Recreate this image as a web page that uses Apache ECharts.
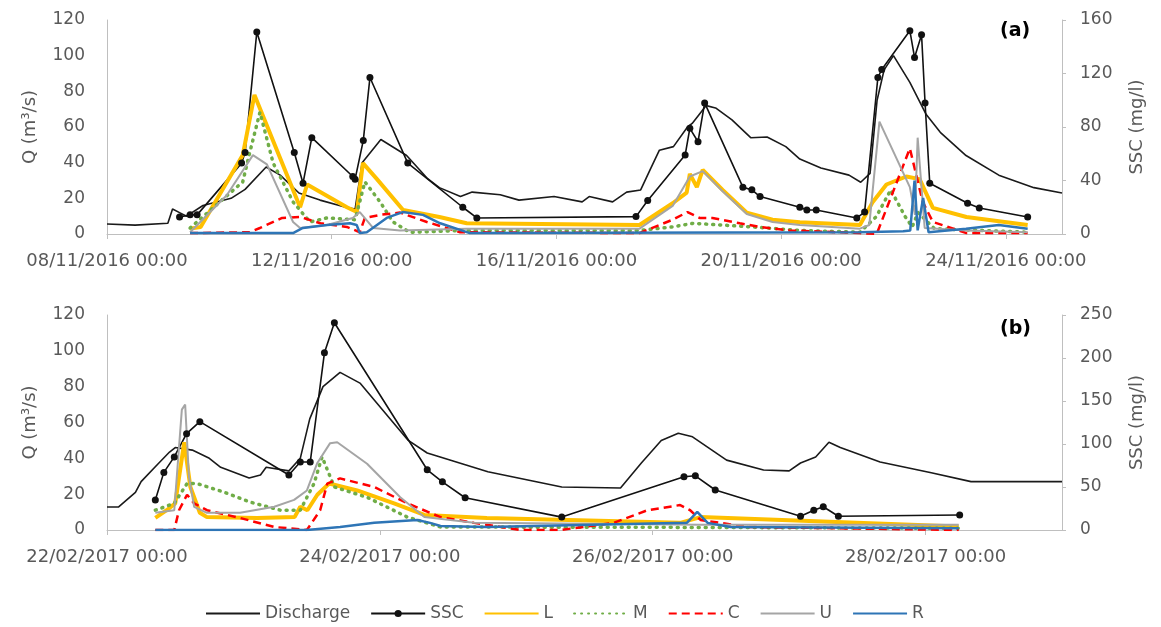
<!DOCTYPE html>
<html><head><meta charset="utf-8">
<script src="https://cdn.jsdelivr.net/npm/echarts@6/dist/echarts.min.js"></script>
<style>html,body{margin:0;padding:0;background:#fff}#c{width:1161px;height:627px}</style>
</head><body><div id="c"></div>
<script>
// ---------- DATA ----------
const startA = "2016-11-08T00:00";
const startB = "2017-02-22T00:00";
const xTicksA = ["08/11/2016 00:00","12/11/2016 00:00","16/11/2016 00:00","20/11/2016 00:00","24/11/2016 00:00"];
const xTicksB = ["22/02/2017 00:00","24/02/2017 00:00","26/02/2017 00:00","28/02/2017 00:00"];
const legendNames = ["Discharge","SSC","L","M","C","U","R"];

// Panel (a) — discharge (m3/s)
const dischargeA = [
["2016-11-08T00:00",5.6],["2016-11-08T12:00",5],["2016-11-09T02:00",6],["2016-11-09T04:00",14],
["2016-11-09T07:00",12],["2016-11-09T10:00",10],["2016-11-09T17:00",16],["2016-11-10T05:00",20],
["2016-11-10T11:00",25],["2016-11-10T20:00",37.6],["2016-11-11T02:00",33],["2016-11-11T10:00",23],
["2016-11-11T19:00",19],["2016-11-12T06:00",15],["2016-11-12T10:00",14],["2016-11-12T13:00",40],
["2016-11-12T21:00",53],["2016-11-13T08:00",44],["2016-11-13T17:00",31],["2016-11-13T22:00",26],
["2016-11-14T07:00",21],["2016-11-14T12:00",23.5],["2016-11-15T00:00",22],["2016-11-15T08:00",19],
["2016-11-15T23:00",21],["2016-11-16T11:00",18],["2016-11-16T14:00",21],["2016-11-17T00:00",18],
["2016-11-17T06:00",23.5],["2016-11-17T12:00",24.7],["2016-11-17T16:00",36],["2016-11-17T20:00",47],
["2016-11-18T02:00",49],["2016-11-18T08:00",60],["2016-11-18T10:00",62],["2016-11-18T16:00",72],
["2016-11-18T20:00",70.7],["2016-11-19T03:00",64],["2016-11-19T11:00",54],["2016-11-19T18:00",54.4],
["2016-11-20T02:00",49],["2016-11-20T08:00",42],["2016-11-20T17:00",37],["2016-11-21T05:00",33],
["2016-11-21T10:00",29],["2016-11-21T14:00",34],["2016-11-21T17:00",75],["2016-11-21T20:00",92],
["2016-11-22T00:00",100],["2016-11-22T07:00",85],["2016-11-22T14:00",67],["2016-11-22T20:00",57],
["2016-11-23T07:00",44],["2016-11-23T21:00",33],["2016-11-24T12:00",26],["2016-11-25T00:00",23]
];
// Panel (a) — SSC (mg/l)
const sscA = [
["2016-11-09T07:00",12.7],["2016-11-09T11:30",14.3],["2016-11-09T14:30",14.3],["2016-11-10T09:30",53],
["2016-11-10T11:00",61],["2016-11-10T16:00",151],["2016-11-11T08:00",61],["2016-11-11T11:45",38],
["2016-11-11T15:30",72],["2016-11-12T09:00",43],["2016-11-12T10:00",41],["2016-11-12T13:30",70],
["2016-11-12T16:20",117],["2016-11-13T08:30",53],["2016-11-14T08:00",20],["2016-11-14T14:00",12],
["2016-11-17T10:00",13],["2016-11-17T15:00",25],["2016-11-18T07:00",59],["2016-11-18T09:00",79],
["2016-11-18T12:30",69],["2016-11-18T15:20",98],["2016-11-19T07:40",35],["2016-11-19T11:30",33],
["2016-11-19T15:00",28],["2016-11-20T08:00",20],["2016-11-20T11:00",18],["2016-11-20T15:00",18],
["2016-11-21T08:20",12],["2016-11-21T11:40",16.4],["2016-11-21T17:20",117],["2016-11-21T19:00",123],
["2016-11-22T07:00",152],["2016-11-22T09:00",132],["2016-11-22T12:00",149],["2016-11-22T13:30",98],
["2016-11-22T15:30",38],["2016-11-23T07:40",23],["2016-11-23T12:40",19.5],["2016-11-24T09:20",12.7]
];
const lA = [
["2016-11-09T11:30",4],["2016-11-09T16:00",5.3],["2016-11-10T10:00",59],["2016-11-10T15:00",104],
["2016-11-11T10:30",20],["2016-11-11T13:30",37],["2016-11-12T06:30",20],["2016-11-12T10:45",16.4],
["2016-11-12T13:20",53],["2016-11-12T19:20",41],["2016-11-13T06:30",18],["2016-11-13T22:00",12.7],
["2016-11-14T09:40",8],["2016-11-17T11:30",6.7],["2016-11-18T01:40",23],["2016-11-18T07:40",31],
["2016-11-18T09:00",45],["2016-11-18T12:00",35],["2016-11-18T14:30",48],["2016-11-18T23:00",33],
["2016-11-19T09:20",16],["2016-11-19T20:20",10.7],["2016-11-20T08:00",8.7],["2016-11-21T09:40",6.7],
["2016-11-21T15:10",24],["2016-11-21T21:00",37],["2016-11-22T05:30",43],["2016-11-22T11:10",41],
["2016-11-22T16:50",19.5],["2016-11-23T07:10",12.7],["2016-11-24T09:20",6.7]
];
const mA = [
["2016-11-09T11:30",4.5],["2016-11-10T10:00",39],["2016-11-10T13:00",61],["2016-11-10T17:20",91],
["2016-11-10T23:00",53],["2016-11-11T07:30",24],["2016-11-11T14:40",9],["2016-11-11T22:00",12],
["2016-11-12T10:00",10.7],["2016-11-12T14:10",39],["2016-11-12T20:40",24],["2016-11-13T02:10",9],
["2016-11-13T09:20",1.3],["2016-11-14T09:40",2.7],["2016-11-17T11:30",2.7],["2016-11-18T01:40",5.3],
["2016-11-18T10:30",8],["2016-11-19T11:30",5.3],["2016-11-20T08:00",2.7],["2016-11-21T09:40",1.3],
["2016-11-21T16:40",13],["2016-11-21T22:50",33],["2016-11-22T05:00",13],["2016-11-22T08:00",5.3],
["2016-11-22T10:30",16],["2016-11-22T17:30",4],["2016-11-24T09:20",1.3]
];
const cA = [
["2016-11-09T11:30",0.7],["2016-11-10T13:00",1.3],["2016-11-10T17:20",4.5],["2016-11-11T02:50",12],
["2016-11-11T10:30",12.7],["2016-11-11T19:10",8],["2016-11-12T06:30",5.3],["2016-11-12T12:00",1.3],
["2016-11-12T14:10",12],["2016-11-12T20:40",14.3],["2016-11-13T05:10",16],["2016-11-13T16:40",9],
["2016-11-14T06:50",1.3],["2016-11-17T11:30",0.7],["2016-11-18T01:40",10.7],["2016-11-18T08:00",16.4],
["2016-11-18T13:10",12],["2016-11-18T18:40",12],["2016-11-19T06:20",8],["2016-11-19T14:50",5.3],
["2016-11-20T03:30",2.7],["2016-11-21T09:40",0.7],["2016-11-21T16:50",0],["2016-11-22T07:00",64],
["2016-11-22T12:30",24],["2016-11-22T16:50",9],["2016-11-23T07:10",0.7],["2016-11-24T09:20",0.7]
];
const uA = [
["2016-11-09T11:30",1.3],["2016-11-10T03:10",29],["2016-11-10T14:20",59],["2016-11-10T20:20",52],
["2016-11-11T07:30",9],["2016-11-11T10:30",4.5],["2016-11-11T22:00",6.7],["2016-11-12T09:00",12],
["2016-11-12T12:00",16.4],["2016-11-12T17:40",4.5],["2016-11-13T05:10",2.7],["2016-11-14T09:40",4],
["2016-11-17T11:30",4],["2016-11-18T01:40",21],["2016-11-18T09:00",43],["2016-11-18T14:30",47],
["2016-11-18T23:00",32],["2016-11-19T09:20",15],["2016-11-19T20:20",9],["2016-11-20T08:00",6.7],
["2016-11-21T09:40",4],["2016-11-21T13:40",6.7],["2016-11-21T18:00",84],["2016-11-22T07:00",35],
["2016-11-22T09:10",14.3],["2016-11-22T10:20",72],["2016-11-22T13:20",4.5],["2016-11-23T07:10",2.7],
["2016-11-24T09:20",1.3]
];
const rA = [
["2016-11-09T11:30",0.7],["2016-11-11T07:30",0.7],["2016-11-11T11:40",4.5],["2016-11-11T22:00",6.7],
["2016-11-12T07:50",8],["2016-11-12T10:40",6.7],["2016-11-12T12:00",0.7],["2016-11-12T15:00",1.3],
["2016-11-12T23:30",12],["2016-11-13T06:20",16.4],["2016-11-13T15:00",14.3],["2016-11-13T22:20",8],
["2016-11-14T11:00",0.7],["2016-11-21T09:40",1.3],["2016-11-22T04:10",2],["2016-11-22T07:10",2.7],
["2016-11-22T09:00",40],["2016-11-22T10:20",2.7],["2016-11-22T12:40",27],["2016-11-22T15:00",1.3],
["2016-11-23T07:00",4],["2016-11-23T21:00",6.7],["2016-11-24T09:20",4]
];

// Panel (b)
const dischargeB = [
["2017-02-22T00:00",12.8],["2017-02-22T02:00",12.8],["2017-02-22T05:00",21],["2017-02-22T06:00",27],
["2017-02-22T09:00",37],["2017-02-22T11:00",43.5],["2017-02-22T12:00",46],["2017-02-22T15:00",44.6],
["2017-02-22T18:00",40],["2017-02-22T20:00",35],["2017-02-23T01:00",29],["2017-02-23T03:00",30.7],
["2017-02-23T04:00",35],["2017-02-23T08:00",33],["2017-02-23T10:00",40],["2017-02-23T11:40",62],
["2017-02-23T14:00",80],["2017-02-23T17:00",88],["2017-02-23T20:30",82],["2017-02-24T05:00",50],
["2017-02-24T08:20",43],["2017-02-24T19:00",32.5],["2017-02-25T08:00",24],["2017-02-25T18:20",23.4],
["2017-02-25T22:00",37.4],["2017-02-26T01:30",50],["2017-02-26T04:30",54],["2017-02-26T07:00",52],
["2017-02-26T13:00",39],["2017-02-26T19:30",33.5],["2017-02-27T00:00",33],["2017-02-27T02:00",37.4],
["2017-02-27T04:40",40.7],["2017-02-27T07:00",49],["2017-02-27T09:00",46],["2017-02-27T16:00",38],
["2017-02-28T01:00",32],["2017-02-28T08:00",27],["2017-02-28T18:30",27],["2017-03-01T00:00",27]
];
const sscB = [
["2017-02-22T08:30",35],["2017-02-22T10:00",67],["2017-02-22T11:50",85],["2017-02-22T14:00",112],
["2017-02-22T16:20",126],["2017-02-23T08:00",64],["2017-02-23T10:00",79],["2017-02-23T11:45",79],
["2017-02-23T14:15",206],["2017-02-23T16:00",241],["2017-02-24T08:20",70],["2017-02-24T11:00",56],
["2017-02-24T15:00",37.5],["2017-02-25T08:00",15],["2017-02-26T05:30",62],["2017-02-26T07:30",63],
["2017-02-26T11:00",46.5],["2017-02-27T02:00",16],["2017-02-27T04:20",23],["2017-02-27T06:00",27],
["2017-02-27T08:40",16],["2017-02-28T06:00",17.5]
];
const lB = [
["2017-02-22T08:30",14],["2017-02-22T10:30",23],["2017-02-22T12:00",31],["2017-02-22T13:35",102],
["2017-02-22T14:40",50],["2017-02-22T16:20",20],["2017-02-22T17:35",15],["2017-02-23T02:25",14],
["2017-02-23T09:00",15],["2017-02-23T10:00",27],["2017-02-23T11:15",23],["2017-02-23T13:00",41],
["2017-02-23T15:05",54],["2017-02-23T20:00",46],["2017-02-24T02:30",31],["2017-02-24T07:50",17.5],
["2017-02-24T18:50",14],["2017-02-26T04:50",8.3],["2017-02-26T08:25",15],["2017-02-28T05:50",4]
];
const mB = [
["2017-02-22T08:30",23],["2017-02-22T11:50",31],["2017-02-22T14:05",54],["2017-02-22T15:50",54],
["2017-02-22T20:35",44],["2017-02-23T01:10",32.5],["2017-02-23T06:30",23],["2017-02-23T10:00",23],
["2017-02-23T12:25",54],["2017-02-23T13:50",85],["2017-02-23T16:00",50],["2017-02-23T21:45",38],
["2017-02-24T04:50",15],["2017-02-24T10:40",3.5],["2017-02-26T08:25",3],["2017-02-28T05:50",2]
];
const cB = [
["2017-02-22T08:30",0],["2017-02-22T11:50",0],["2017-02-22T12:40",23],["2017-02-22T14:05",41],
["2017-02-22T15:20",31],["2017-02-22T17:35",23],["2017-02-22T23:25",14],["2017-02-23T05:25",3.5],
["2017-02-23T11:10",0],["2017-02-23T13:30",23],["2017-02-23T14:45",54],["2017-02-23T17:00",60],
["2017-02-23T23:00",50],["2017-02-24T04:50",31],["2017-02-24T10:40",15],["2017-02-24T16:35",8.3],
["2017-02-25T00:40",0],["2017-02-25T07:45",0],["2017-02-25T17:05",8.3],["2017-02-25T23:05",23],
["2017-02-26T04:50",29],["2017-02-26T06:35",23],["2017-02-26T08:25",11.7],["2017-02-26T16:40",3.5],
["2017-02-28T05:50",0]
];
const uB = [
["2017-02-22T08:30",20],["2017-02-22T11:50",23],["2017-02-22T13:10",140],["2017-02-22T13:45",146],
["2017-02-22T14:25",62],["2017-02-22T15:20",27],["2017-02-22T17:35",20],["2017-02-22T23:25",20],
["2017-02-23T05:25",27],["2017-02-23T08:55",35],["2017-02-23T11:10",46],["2017-02-23T13:00",78],
["2017-02-23T15:15",101],["2017-02-23T16:30",102],["2017-02-23T21:45",77],["2017-02-24T03:35",38],
["2017-02-24T07:50",15],["2017-02-24T16:35",8.3],["2017-02-26T08:25",6],["2017-02-28T05:50",6]
];
const rB = [
["2017-02-22T08:30",0],["2017-02-23T11:10",0],["2017-02-23T17:00",3.5],["2017-02-23T23:00",8.3],
["2017-02-24T06:35",11.7],["2017-02-24T08:50",8.3],["2017-02-24T10:40",4.6],["2017-02-24T18:50",3.5],
["2017-02-26T06:00",8.3],["2017-02-26T07:50",21],["2017-02-26T09:40",8.3],["2017-02-26T13:40",3.5],
["2017-02-28T05:50",2]
];

// ---------- CHART ----------
const FONT = "DejaVu Sans";
const GREY = "#595959";
const AXIS = "#BFBFBF";
const styles = {
  Discharge: {color:"#1a1a1a", width:1.6},
  SSC: {color:"#111111", width:1.6, symbol:true},
  L: {color:"#FFC000", width:4},
  M: {color:"#70AD47", width:3.5, type:[1,6], cap:"round"},
  C: {color:"#FF0000", width:2.5, type:[8,5]},
  U: {color:"#A5A5A5", width:2},
  R: {color:"#2E75B6", width:2.5}
};
const DAY = 864e5;
function toDays(t, s){ return (new Date(t) - new Date(s)) / DAY; }
function pts(arr, s){ return arr.map(p => [toDays(p[0], s), p[1]]); }
function line(name, data, start, xi, yi){
  const s = styles[name];
  return {
    name, type:"line", xAxisIndex:xi, yAxisIndex:yi, data:pts(data,start),
    symbol: s.symbol ? "circle" : "none", showSymbol: !!s.symbol, symbolSize:7,
    itemStyle:{color:s.color},
    lineStyle:{color:s.color, width:s.width, type:s.type || "solid", cap:s.cap || "butt"},
    animation:false
  };
}
const lbl = {fontFamily:FONT, fontSize:18, color:GREY};
function xAxis(gi, max, interval, ticks){
  return {type:"value", gridIndex:gi, min:0, max, interval,
    axisLine:{show:true, onZero:false, lineStyle:{color:AXIS, width:1}},
    axisTick:{show:true, length:5, lineStyle:{color:AXIS}},
    splitLine:{show:false},
    axisLabel:Object.assign({margin:18, showMaxLabel:false,
      formatter: v => { const i = Math.round(v / interval); return Math.abs(v - i*interval) < 1e-6 ? (ticks[i] || "") : ""; }}, lbl)};
}
function yAxis(gi, pos, max, interval, name, gap){
  return {type:"value", gridIndex:gi, position:pos, min:0, max, interval,
    name, nameLocation:"middle", nameRotate:90, nameGap:gap,
    nameTextStyle:{fontFamily:FONT, fontSize:18, color:GREY},
    axisLine:{show:true, lineStyle:{color:AXIS, width:1}},
    axisTick:{show: pos === "right", length:4, lineStyle:{color:AXIS}},
    splitLine:{show:false},
    axisLabel:Object.assign({margin: pos === "right" ? 18 : 22}, {fontFamily:FONT, fontSize:17, color:GREY})};
}
const legendData = legendNames.map(n => styles[n].symbol ? {name:n} : {name:n, itemStyle:{opacity:0}});
const option = {
  backgroundColor:"#ffffff",
  animation:false,
  grid:[
    {left:107, right:99, top:20, height:214},
    {left:107, right:99, top:315, height:215}
  ],
  xAxis:[ xAxis(0, 17, 4, xTicksA), xAxis(1, 7, 2, xTicksB) ],
  yAxis:[
    yAxis(0, "left", 120, 20, "Q (m³/s)", 68),
    yAxis(0, "right", 160, 40, "SSC (mg/l)", 66),
    yAxis(1, "left", 120, 20, "Q (m³/s)", 68),
    yAxis(1, "right", 250, 50, "SSC (mg/l)", 66)
  ],
  legend:{data:legendData, left:200, top:600, itemWidth:54, itemHeight:9, itemGap:20,
    textStyle:{fontFamily:FONT, fontSize:17, color:GREY}},
  graphic:[
    {type:"text", left:1000, top:22, style:{text:"(a)", font:"bold 19px 'DejaVu Sans'", fill:"#000"}},
    {type:"text", left:1000, top:320, style:{text:"(b)", font:"bold 19px 'DejaVu Sans'", fill:"#000"}}
  ],
  series:[
    line("Discharge", dischargeA, startA, 0, 0),
    line("SSC", sscA, startA, 0, 1),
    line("L", lA, startA, 0, 1),
    line("M", mA, startA, 0, 1),
    line("C", cA, startA, 0, 1),
    line("U", uA, startA, 0, 1),
    line("R", rA, startA, 0, 1),
    line("Discharge", dischargeB, startB, 1, 2),
    line("SSC", sscB, startB, 1, 3),
    line("L", lB, startB, 1, 3),
    line("M", mB, startB, 1, 3),
    line("C", cB, startB, 1, 3),
    line("U", uB, startB, 1, 3),
    line("R", rB, startB, 1, 3)
  ]
};
const chart = echarts.init(document.getElementById("c"));
chart.setOption(option);
</script>
</body></html>
